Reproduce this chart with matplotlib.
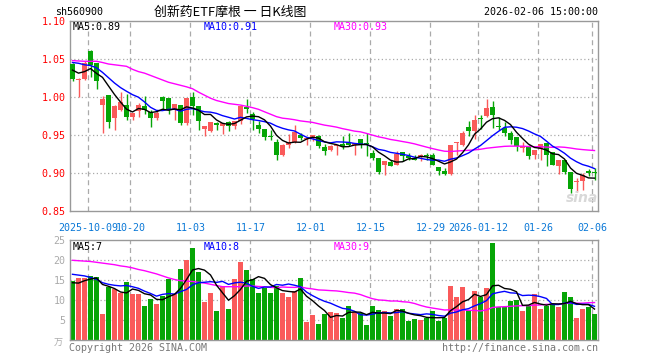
import numpy as np
import pandas as pd
import matplotlib
matplotlib.use('Agg')
import matplotlib.pyplot as plt

# ---------------- data ----------------
opens = [1.0435, 1.022, 1.0233, 1.0606, 1.0444, 0.9896, 1.0023, 0.972, 0.983, 0.989,
         0.9734, 0.9808, 0.9878, 0.9799, 0.972, 0.9997, 0.9988, 0.983, 0.9887, 0.966,
         0.9997, 0.9874, 0.958, 0.9545, 0.966, 0.961, 0.9663, 0.962, 0.9676, 0.986,
         0.9773, 0.9633, 0.9575, 0.9479, 0.9404, 0.9238, 0.937, 0.9404, 0.9501, 0.9439,
         0.9457, 0.9488, 0.9338, 0.9304, 0.9352, 0.9378, 0.94, 0.937, 0.9444, 0.9392,
         0.926, 0.9194, 0.9106, 0.9141, 0.9106, 0.9268, 0.9216, 0.920, 0.9203, 0.9229,
         0.9238, 0.9076, 0.9027, 0.8988, 0.9392, 0.937, 0.9602, 0.9545, 0.9725, 0.9742,
         0.9865, 0.961, 0.9589, 0.9523, 0.947, 0.9325, 0.9338, 0.9238, 0.931, 0.9392,
         0.9273, 0.9084, 0.9172, 0.9005, 0.8873, 0.8887, 0.9018, 0.901]
closes = [1.0233, 1.0233, 1.0444, 1.0422, 1.0203, 0.997, 0.9667, 0.9883, 0.9926, 0.9734,
          0.9786, 0.9896, 0.9821, 0.972, 0.979, 0.9948, 0.983, 0.9905, 0.966, 0.9988,
          0.9874, 0.9685, 0.962, 0.9668, 0.9624, 0.9655, 0.9614, 0.9676, 0.9883, 0.9843,
          0.9707, 0.9575, 0.947, 0.947, 0.9238, 0.937, 0.9404, 0.9532, 0.9457, 0.9448,
          0.9492, 0.9348, 0.929, 0.9348, 0.937, 0.9348, 0.936, 0.9392, 0.9378, 0.9378,
          0.9194, 0.901, 0.915, 0.9093, 0.925, 0.9216, 0.920, 0.917, 0.9238, 0.9216,
          0.9106, 0.9027, 0.8988, 0.937, 0.9404, 0.9523, 0.9545, 0.969, 0.9712, 0.9852,
          0.9755, 0.960, 0.9523, 0.9435, 0.9348, 0.9348, 0.9225, 0.9304, 0.9382, 0.9229,
          0.9106, 0.9172, 0.901, 0.879, 0.888, 0.8975, 0.9001, 0.8996]
highs = [1.0440, 1.0240, 1.047, 1.061, 1.0444, 1.0005, 1.0023, 0.9885, 1.0067, 1.003,
         0.979, 0.9918, 1.0014, 0.9825, 0.981, 1.0014, 0.9988, 0.9905, 0.9887, 0.9988,
         1.0062, 0.9874, 0.962, 0.9668, 0.9668, 0.9655, 0.9676, 0.9676, 0.9885, 0.997,
         0.9795, 0.9676, 0.9575, 0.9567, 0.9448, 0.938, 0.9514, 0.9624, 0.9523, 0.9461,
         0.950, 0.950, 0.9378, 0.937, 0.937, 0.948, 0.9523, 0.9392, 0.9444, 0.9523,
         0.9304, 0.9194, 0.915, 0.9172, 0.929, 0.9268, 0.926, 0.9238, 0.9247, 0.926,
         0.926, 0.9076, 0.906, 0.937, 0.9404, 0.9554, 0.9676, 0.9764, 0.9764, 0.997,
         0.994, 0.973, 0.9663, 0.9545, 0.947, 0.9404, 0.9368, 0.9304, 0.9382, 0.9392,
         0.9273, 0.9172, 0.9172, 0.9005, 0.8931, 0.8996, 0.9053, 0.9062]
lows = [1.021, 0.999, 1.022, 1.0255, 1.0106, 0.9523, 0.9589, 0.9567, 0.981, 0.970,
        0.970, 0.973, 0.977, 0.9606, 0.970, 0.983, 0.977, 0.970, 0.9624, 0.9624,
        0.9764, 0.9567, 0.9488, 0.954, 0.9558, 0.9514, 0.9545, 0.958, 0.964, 0.9786,
        0.9567, 0.9523, 0.9435, 0.9435, 0.9172, 0.9225, 0.9325, 0.939, 0.9435, 0.9365,
        0.9413, 0.9325, 0.9229, 0.929, 0.9238, 0.9316, 0.935, 0.9238, 0.9325, 0.9225,
        0.9172, 0.8983, 0.8966, 0.9084, 0.9097, 0.915, 0.917, 0.9163, 0.9159, 0.917,
        0.9097, 0.8966, 0.8966, 0.8975, 0.9229, 0.9348, 0.948, 0.945, 0.9575, 0.9733,
        0.959, 0.9567, 0.948, 0.9378, 0.928, 0.9273, 0.9185, 0.9185, 0.9172, 0.9093,
        0.9097, 0.8983, 0.8983, 0.8733, 0.8746, 0.8768, 0.8953, 0.8909]
volumes = [14.8, 15.6, 15.6, 16.1, 15.8, 6.7, 13.3, 12.8, 11.8, 14.6,
           11.6, 11.6, 8.6, 10.3, 9.1, 11.1, 15.3, 11.6, 17.8, 20.1,
           23.1, 17.1, 9.6, 11.8, 7.3, 13.6, 7.8, 15.3, 19.6, 17.6,
           15.3, 11.8, 13.1, 11.8, 13.6, 11.8, 10.8, 12.3, 15.6, 4.6,
           6.3, 4.1, 6.6, 7.1, 6.9, 5.6, 8.6, 7.2, 6.8, 3.8,
           8.6, 7.6, 7.25, 6.1, 7.8, 7.8, 4.8, 5.3, 5.1, 5.7,
           7.3, 4.8, 5.6, 13.6, 10.8, 13.3, 7.6, 12.3, 10.8, 13.1,
           24.3, 8.3, 8.3, 9.8, 10.0, 7.3, 8.6, 11.6, 7.8, 8.6,
           9.1, 8.3, 12.1, 10.75, 5.6, 7.8, 8.3, 6.6]

# moving-average values at the left edge (need days before the window)
price_ma5_head = [1.035, 1.031, 1.033, 1.037]
price_ma10_head = [1.045, 1.044, 1.042, 1.041, 1.038, 1.032, 1.025, 1.018, 1.012]
price_ma30_head = [1.0475, 1.047, 1.0466, 1.0466, 1.0466, 1.045, 1.043, 1.042, 1.041, 1.040,
                   1.036, 1.033, 1.031, 1.028, 1.025, 1.022, 1.019, 1.017, 1.015, 1.013,
                   1.0105, 1.006, 1.002, 0.998, 0.995, 0.993, 0.991, 0.990, 0.989]
vol_ma5_head = [14.4, 14.3, 14.9, 15.3]
vol_ma10_head = [16.5, 16.3, 16.1, 15.7, 15.25, 14.4, 14.0, 13.75, 13.6]
vol_ma30_head = [20.0, 19.9, 19.8, 19.7, 19.5, 19.3, 19.1, 18.9, 18.6, 18.4,
                 18.1, 17.7, 17.4, 17.0, 16.6, 16.1, 15.6, 15.2, 14.9, 14.8,
                 14.7, 14.5, 14.3, 14.0, 13.7, 13.4, 13.4, 13.4, 13.4]

tick_pos = [3, 10, 20, 30, 40, 50, 60, 68, 78, 87]
tick_labels = ['2025-10-09', '10-20', '11-03', '11-17', '12-01', '12-15',
               '12-29', '2026-01-12', '01-26', '02-06']
price_ticks = [0.85, 0.90, 0.95, 1.00, 1.05, 1.10]
vol_ticks = [5, 10, 15, 20, 25]

code = 'sh560900'
title = '创新药ETF摩根 一 日K线图'
stamp = '2026-02-06 15:00:00'
price_legend = ['MA5:0.89', 'MA10:0.91', 'MA30:0.93']
vol_legend = ['MA5:7', 'MA10:8', 'MA30:9']

# ---------------- styling ----------------
RED = '#fa5a5a'
GREEN = '#06a506'
GRID = '#aaaaaa'
FRAME = '#999999'
MONO = 'DejaVu Sans Mono'
W, H = 660, 360


def moving(values, n, head):
    s = pd.Series(values, dtype=float).rolling(n).mean().to_numpy()
    s[:len(head)] = head
    return s


def fx(x):
    return x / W


def fy(y):
    return 1 - y / H


fig = plt.figure(figsize=(6.6, 3.6), dpi=100)
fig.patch.set_facecolor('white')

ax = fig.add_axes([fx(69.5), fy(210.7), 528 / W, 190 / H])
axv = fig.add_axes([fx(69.5), fy(340.3), 528 / W, 100 / H])

n = len(closes)
x = np.arange(n)
o = np.array(opens)
c = np.array(closes)
hi = np.array(highs)
lo = np.array(lows)
up = c >= o
colors = np.where(up, RED, GREEN)

for a in (ax, axv):
    a.set_xlim(-0.5, n - 0.5)
    for s in a.spines.values():
        s.set_color(FRAME)
        s.set_linewidth(1)
    for p in tick_pos:
        a.axvline(p - 0.35, color=GRID, lw=0.9, ls=(0, (4, 3)), zorder=0)
    a.set_xticks([])

# price panel
ax.set_ylim(0.85, 1.10)
for t in price_ticks[1:-1]:
    ax.axhline(t, color=GRID, lw=0.9, ls=(0, (1, 2)), zorder=0)
ax.vlines(x, lo, hi, colors=colors, lw=1, zorder=2)
body_bottom = np.minimum(o, c)
body_h = np.maximum(np.abs(c - o), 0.0014)
ax.bar(x, body_h, bottom=body_bottom, width=5 / 6, color=colors, lw=0, zorder=3)

pma5 = moving(closes, 5, price_ma5_head)
pma10 = moving(closes, 10, price_ma10_head)
pma30 = moving(closes, 30, price_ma30_head)
ax.plot(x, pma30, color='#ff00ff', lw=1, zorder=4)
ax.plot(x, pma10, color='#0000ff', lw=1, zorder=5)
ax.plot(x, pma5, color='black', lw=1, zorder=6)

ax.set_yticks(price_ticks)
ax.set_yticklabels(['%.2f' % t for t in price_ticks], color='red',
                   fontsize=7.2, family=MONO)
ax.tick_params(axis='y', length=0, pad=3)

# volume panel
axv.set_ylim(0, 25)
for t in vol_ticks[:-1]:
    axv.axhline(t, color=GRID, lw=0.9, ls=(0, (1, 2)), zorder=0)
axv.bar(x, volumes, width=5 / 6, color=colors, lw=0, zorder=2)
vma5 = moving(volumes, 5, vol_ma5_head)
vma10 = moving(volumes, 10, vol_ma10_head)
vma30 = moving(volumes, 30, vol_ma30_head)
axv.plot(x, vma30, color='#ff00ff', lw=1, zorder=4)
axv.plot(x, vma10, color='#0000ff', lw=1, zorder=5)
axv.plot(x, vma5, color='black', lw=1, zorder=6)
axv.set_yticks(vol_ticks)
axv.set_yticklabels([str(t) for t in vol_ticks], color='#aaaaaa',
                    fontsize=7.2, family=MONO)
axv.tick_params(axis='y', length=0, pad=3)

# x tick labels (between the panels)
for p, lab in zip(tick_pos, tick_labels):
    xp = 72.5 + 6 * p - 2
    fig.text(fx(xp), fy(228), lab, color='#0a78d7', fontsize=7.2, family=MONO,
             ha='center', va='center')

# legends
for txt, col, xp in zip(price_legend, ['black', '#0000ff', '#ff00ff'], [73, 204, 334]):
    fig.text(fx(xp), fy(27), txt, color=col, fontsize=7.2, family=MONO,
             ha='left', va='center')
for txt, col, xp in zip(vol_legend, ['black', '#0000ff', '#ff00ff'], [73, 204, 334]):
    fig.text(fx(xp), fy(247), txt, color=col, fontsize=7.2, family=MONO,
             ha='left', va='center')

# header
fig.text(fx(55), fy(12), code, color='black', fontsize=7.2, family=MONO,
         ha='left', va='center')
fig.text(fx(230), fy(12), title, color='black', fontsize=9.3,
         family=['Noto Sans CJK SC', 'DejaVu Sans'], ha='center', va='center')
fig.text(fx(598), fy(12), stamp, color='black', fontsize=7.2, family=MONO,
         ha='right', va='center')

# footer
fig.text(fx(69), fy(348), 'Copyright 2026 SINA.COM', color='#777777', fontsize=7.2,
         family=MONO, ha='left', va='center')
fig.text(fx(598), fy(348), 'http://finance.sina.com.cn', color='#777777', fontsize=7.2,
         family=MONO, ha='right', va='center')
fig.text(fx(63), fy(343), '万', color='#aaaaaa', fontsize=6.5,
         family=['Noto Sans CJK SC', 'DejaVu Sans'], ha='right', va='center')

# watermark
fig.text(fx(582), fy(198), 'sina', color='#d8d8d8', fontsize=10, style='italic',
         weight='bold', ha='center', va='center', zorder=1)

fig.savefig('out.png', dpi=100, facecolor='white')
